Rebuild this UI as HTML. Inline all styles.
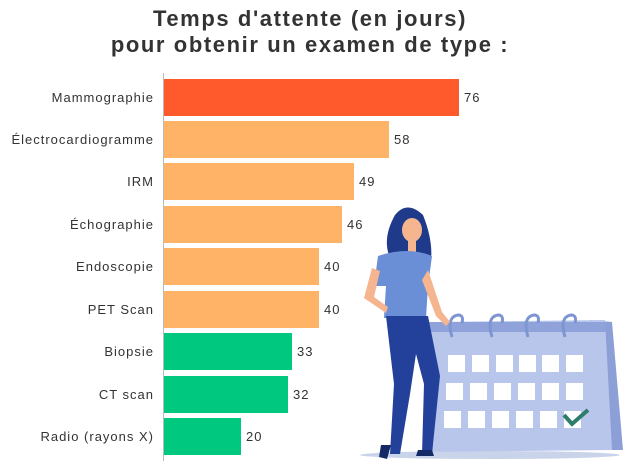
<!DOCTYPE html>
<html><head><style>
body{margin:0;background:#fff;width:642px;height:463px;overflow:hidden;font-family:"Liberation Sans",sans-serif;}
</style></head><body>
<svg width="642" height="463" xmlns="http://www.w3.org/2000/svg" font-family="Liberation Sans, sans-serif">
<text x="310" y="26" text-anchor="middle" font-size="22" font-weight="bold" fill="#333" letter-spacing="1.6">Temps d'attente (en jours)</text>
<text x="310" y="52" text-anchor="middle" font-size="22" font-weight="bold" fill="#333" letter-spacing="1.6">pour obtenir un examen de type :</text>
<line x1="163.5" y1="73" x2="163.5" y2="461" stroke="#bbb" stroke-width="1"/>
<g font-size="13" fill="#333" letter-spacing="1">
<rect x="164" y="79" width="295" height="37" fill="#FF5A2C"/><text x="154" y="102" text-anchor="end">Mammographie</text><text x="464" y="102">76</text>
<rect x="164" y="121" width="225" height="37" fill="#FFB366"/><text x="154" y="144" text-anchor="end">Électrocardiogramme</text><text x="394" y="144">58</text>
<rect x="164" y="163" width="190" height="37" fill="#FFB366"/><text x="154" y="186" text-anchor="end">IRM</text><text x="359" y="186">49</text>
<rect x="164" y="206" width="178" height="37" fill="#FFB366"/><text x="154" y="229" text-anchor="end">Échographie</text><text x="347" y="229">46</text>
<rect x="164" y="248" width="155" height="37" fill="#FFB366"/><text x="154" y="271" text-anchor="end">Endoscopie</text><text x="324" y="271">40</text>
<rect x="164" y="291" width="155" height="37" fill="#FFB366"/><text x="154" y="314" text-anchor="end">PET Scan</text><text x="324" y="314">40</text>
<rect x="164" y="333" width="128" height="37" fill="#00C97F"/><text x="154" y="356" text-anchor="end">Biopsie</text><text x="297" y="356">33</text>
<rect x="164" y="376" width="124" height="37" fill="#00C97F"/><text x="154" y="399" text-anchor="end">CT scan</text><text x="293" y="399">32</text>
<rect x="164" y="418" width="77" height="37" fill="#00C97F"/><text x="154" y="441" text-anchor="end">Radio (rayons X)</text><text x="246" y="441">20</text>
</g>
<ellipse cx="490" cy="455" rx="130" ry="4" fill="#c9d3ea"/>
<polygon points="590,320 612,322 623,450 600,450" fill="#8c9fd6"/>
<polygon points="432,322 605,320 612,450 423,452" fill="#b8c6ec"/>
<rect x="428" y="322" width="178" height="10" fill="#8fa3da"/>
<g fill="none" stroke="#7f95d2" stroke-width="3">
<path d="M452,337 q-6,-20 6,-22 q6,0 4,8"/><path d="M492,337 q-6,-20 6,-22 q6,0 4,8"/><path d="M528,337 q-6,-20 6,-22 q6,0 4,8"/><path d="M565,337 q-6,-20 6,-22 q6,0 4,8"/>
</g>
<g fill="#fff">
<rect x="448" y="355" width="17" height="17"/><rect x="472" y="355" width="17" height="17"/><rect x="496" y="355" width="17" height="17"/><rect x="519" y="355" width="17" height="17"/><rect x="542" y="355" width="17" height="17"/><rect x="566" y="355" width="17" height="17"/>
<rect x="446" y="383" width="17" height="17"/><rect x="470" y="383" width="17" height="17"/><rect x="494" y="383" width="17" height="17"/><rect x="518" y="383" width="17" height="17"/><rect x="542" y="383" width="17" height="17"/><rect x="566" y="383" width="17" height="17"/>
<rect x="444" y="411" width="17" height="17"/><rect x="468" y="411" width="17" height="17"/><rect x="492" y="411" width="17" height="17"/><rect x="516" y="411" width="17" height="17"/><rect x="540" y="411" width="17" height="17"/><rect x="564" y="411" width="17" height="17"/>
</g>
<path d="M564,415 l8,9 l16,-14" fill="none" stroke="#2e7d6b" stroke-width="4"/>
<path d="M395,215 q12,-15 28,0 q10,25 8,45 l-40,0 q-10,-20 4,-45z" fill="#1f3a8a"/>
<ellipse cx="412" cy="230" rx="10" ry="12" fill="#f5b58f"/>
<rect x="408" y="240" width="8" height="12" fill="#f5b58f"/>
<path d="M378,256 q30,-10 54,0 l-4,30 l-2,32 l-42,0 l2,-32 l-12,0z" fill="#6a8fd6"/>
<path d="M372,268 l-8,30 l22,15 l2,-6 l-14,-10 l6,-26z" fill="#f5b58f"/>
<path d="M428,270 l14,42 l8,10 l-4,4 l-10,-10 l-14,-36z" fill="#f5b58f"/>
<path d="M386,316 l42,0 l12,60 l-8,78 l-10,0 l2,-70 l-8,-30 l-6,40 l-10,60 l-10,0 l4,-70z" fill="#23409a"/>
<path d="M381,445 l10,0 l-4,14 l-8,-2z M418,450 l14,0 l2,6 l-18,0z" fill="#142a66"/>
</svg>
</body></html>
